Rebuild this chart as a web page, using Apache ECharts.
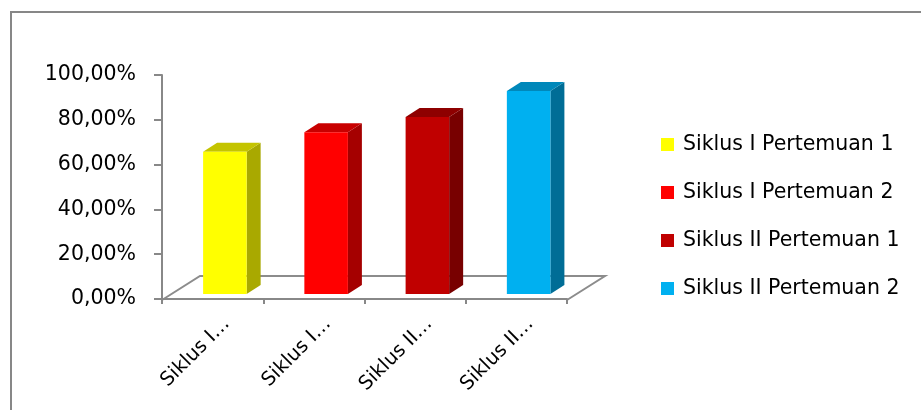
<!DOCTYPE html>
<html>
<head>
<meta charset="utf-8">
<script src="https://cdn.jsdelivr.net/npm/echarts@6/dist/echarts.min.js"></script>
<style>
  html, body { margin: 0; padding: 0; background: #fff; }
  #chart { width: 921px; height: 410px; }
</style>
</head>
<body>
<div id="chart"></div>
<script>
// data
const categories = ['Siklus I Pertemuan 1', 'Siklus I Pertemuan 2', 'Siklus II Pertemuan 1', 'Siklus II Pertemuan 2']
const values = [63.5, 72.2, 79.0, 90.6]
const yTicks = [0, 20, 40, 60, 80, 100]

// front / side / top colours for each bar
const faces = [
    ['#ffff00', '#a9a900', '#c4c400'],
    ['#ff0000', '#a50000', '#c80000'],
    ['#c00000', '#780000', '#8e0000'],
    ['#00b0f0', '#006d96', '#0088ba']
]
const FONT = 'DejaVu Sans'
const DX = 14, DY = -9      // bar depth
const SHIFT = 5             // bar sits a bit behind the front plane

const renderBar = (params, api) => {
    const idx = api.value(0)
    const base = api.coord([idx, 0])
    const top = api.coord([idx, api.value(1)])
    const band = api.size([1, 0])[0]
    const w = band * 0.43
    const x0 = base[0] - band * 0.094
    const x1 = x0 + w
    const yb = base[1] - SHIFT
    const yt = top[1] - SHIFT
    const c = faces[params.seriesIndex]
    return {
        type: 'group',
        children: [
            { type: 'polygon', shape: { points: [[x1, yb], [x1 + DX, yb + DY], [x1 + DX, yt + DY], [x1, yt]] }, style: { fill: c[1] } },
            { type: 'polygon', shape: { points: [[x0, yt], [x1, yt], [x1 + DX, yt + DY], [x0 + DX, yt + DY]] }, style: { fill: c[2] } },
            { type: 'rect', shape: { x: x0, y: yt, width: w, height: yb - yt }, style: { fill: c[0] } }
        ]
    }
}

const chart = echarts.init(document.getElementById('chart'))

const series = categories.map((name, i) => ({
    name: name,
    type: 'custom',
    renderItem: renderBar,
    itemStyle: { color: faces[i][0] },
    encode: { x: 0, y: 1 },
    data: [[i, values[i]]]
}))

const option = {
    animation: false,
    grid: { left: 162, right: 354, top: 75, bottom: 111, containLabel: false },
    legend: {
        orient: 'vertical',
        left: 661,
        top: 134,
        padding: 0,
        itemGap: 27,
        itemWidth: 13,
        itemHeight: 13,
        icon: 'rect',
        textStyle: { fontFamily: FONT, fontSize: 20.5, color: '#000', lineHeight: 20, padding: [0, 0, 0, 4] },
        data: categories
    },
    xAxis: [{
        type: 'category',
        data: categories,
        offset: 3,
        axisLine: { lineStyle: { color: '#888', width: 2 } },
        axisTick: { show: true, interval: 0, length: 5, lineStyle: { color: '#888', width: 2 } },
        axisLabel: { show: false }
    }, {
        type: 'value',
        position: 'bottom',
        min: -0.64,
        max: 3.36,
        axisLine: { show: false },
        axisTick: { show: false },
        splitLine: { show: false },
        axisLabel: {
            customValues: [0, 1, 2, 3],
            rotate: 45,
            margin: 22,
            fontFamily: FONT,
            fontSize: 19.5,
            color: '#000',
            formatter: v => categories[Math.round(v)].split(' ').slice(0, 2).join(' ') + '…'
        }
    }],
    yAxis: {
        type: 'value',
        min: 0,
        max: 100,
        interval: 20,
        axisLine: { show: true, onZero: false, lineStyle: { color: '#888', width: 2 } },
        axisTick: { show: true, length: 8, lineStyle: { color: '#888', width: 2 } },
        splitLine: { show: false },
        axisLabel: {
            margin: 26,
            fontFamily: FONT,
            fontSize: 20.5,
            color: '#000',
            formatter: v => v.toFixed(2).replace('.', ',') + '%'
        }
    },
    series: series
}
chart.setOption(option)

// floor of the 3d plot, from the axis scales
const y0 = chart.convertToPixel({ yAxisIndex: 0 }, 0)
const xa = chart.convertToPixel({ xAxisIndex: 0 }, 0)
const xb = chart.convertToPixel({ xAxisIndex: 0 }, categories.length - 1)
const band = (xb - xa) / (categories.length - 1)
const left = xa - band / 2, right = xb + band / 2
const fdx = 38, fdy = -24
const floorLine = { stroke: '#8c8c8c', lineWidth: 2 }
chart.setOption({
    graphic: [
        { type: 'rect', shape: { x: 11, y: 12, width: 960, height: 460 }, style: { fill: 'none', stroke: '#878787', lineWidth: 2 }, silent: true },
        { type: 'polyline', shape: { points: [[left, y0 + 1], [left + fdx, y0 + fdy + 1], [right + fdx, y0 + fdy + 1], [right, y0 + 1]] }, style: floorLine, silent: true }
    ]
})
</script>
</body>
</html>
